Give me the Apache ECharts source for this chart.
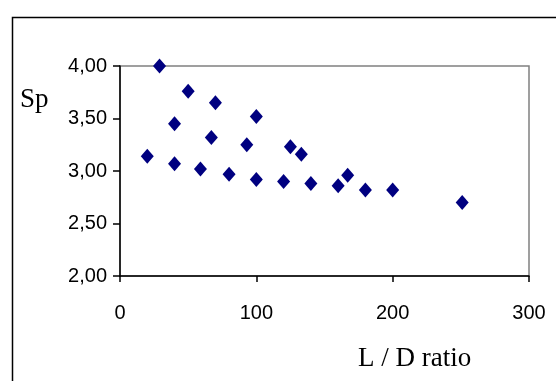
<!DOCTYPE html>
<html><head><meta charset="utf-8">
<script src="https://cdn.jsdelivr.net/npm/echarts@6/dist/echarts.min.js"></script>
<style>html,body{margin:0;padding:0;background:#fff}#c{width:556px;height:381px}</style>
</head><body><div id="c"></div>
<script>
const ldRatio = [29, 50, 70, 40, 100, 67, 93, 125, 133, 20, 40, 59, 80, 100, 120, 140, 160, 167, 180, 200, 251];
const spValues = [4.00, 3.76, 3.65, 3.45, 3.52, 3.32, 3.25, 3.23, 3.16, 3.14, 3.07, 3.02, 2.97, 2.92, 2.90, 2.88, 2.86, 2.96, 2.82, 2.82, 2.70];
const xTicks = [0, 100, 200, 300];
const yTicks = [2.00, 2.50, 3.00, 3.50, 4.00];

const chart = echarts.init(document.getElementById('c'), null, {renderer: 'canvas'});
chart.setOption({
  animation: false,
  backgroundColor: '#fff',
  graphic: [
    {type: 'rect', shape: {x: 12.5, y: 17.5, width: 700, height: 500}, style: {fill: 'none', stroke: '#000', lineWidth: 1.5}, z: 0},
    {type: 'text', left: 20, top: 86, style: {text: 'Sp', font: '27px "Liberation Serif"', fill: '#000'}},
    {type: 'text', left: 358, top: 345, style: {text: 'L / D ratio', font: '27px "Liberation Serif"', fill: '#000'}}
  ],
  grid: {left: 120, right: 27, top: 66, bottom: 105, show: true, borderColor: '#808080', borderWidth: 1.5, backgroundColor: 'transparent'},
  xAxis: {
    type: 'value', min: xTicks[0], max: xTicks[xTicks.length - 1], interval: 100,
    axisLine: {show: true, onZero: false, lineStyle: {color: '#000', width: 1.5}},
    axisTick: {show: true, length: 6, inside: false, lineStyle: {color: '#000', width: 1.5}},
    axisLabel: {color: '#000', fontFamily: 'Liberation Sans', fontSize: 20, margin: 27},
    splitLine: {show: false}
  },
  yAxis: {
    type: 'value', min: yTicks[0], max: yTicks[yTicks.length - 1], interval: 0.5,
    axisLine: {show: true, onZero: false, lineStyle: {color: '#000', width: 1.5}},
    axisTick: {show: true, length: 7, inside: false, lineStyle: {color: '#000', width: 1.5}},
    axisLabel: {color: '#000', fontFamily: 'Liberation Sans', fontSize: 20, margin: 13,
      formatter: v => v.toFixed(2).replace('.', ',')},
    splitLine: {show: false}
  },
  series: [{
    type: 'scatter',
    symbol: 'diamond',
    symbolSize: [13, 15],
    itemStyle: {color: '#000080', opacity: 1},
    data: ldRatio.map((x, i) => [x, spValues[i]])
  }]
});
</script></body></html>
